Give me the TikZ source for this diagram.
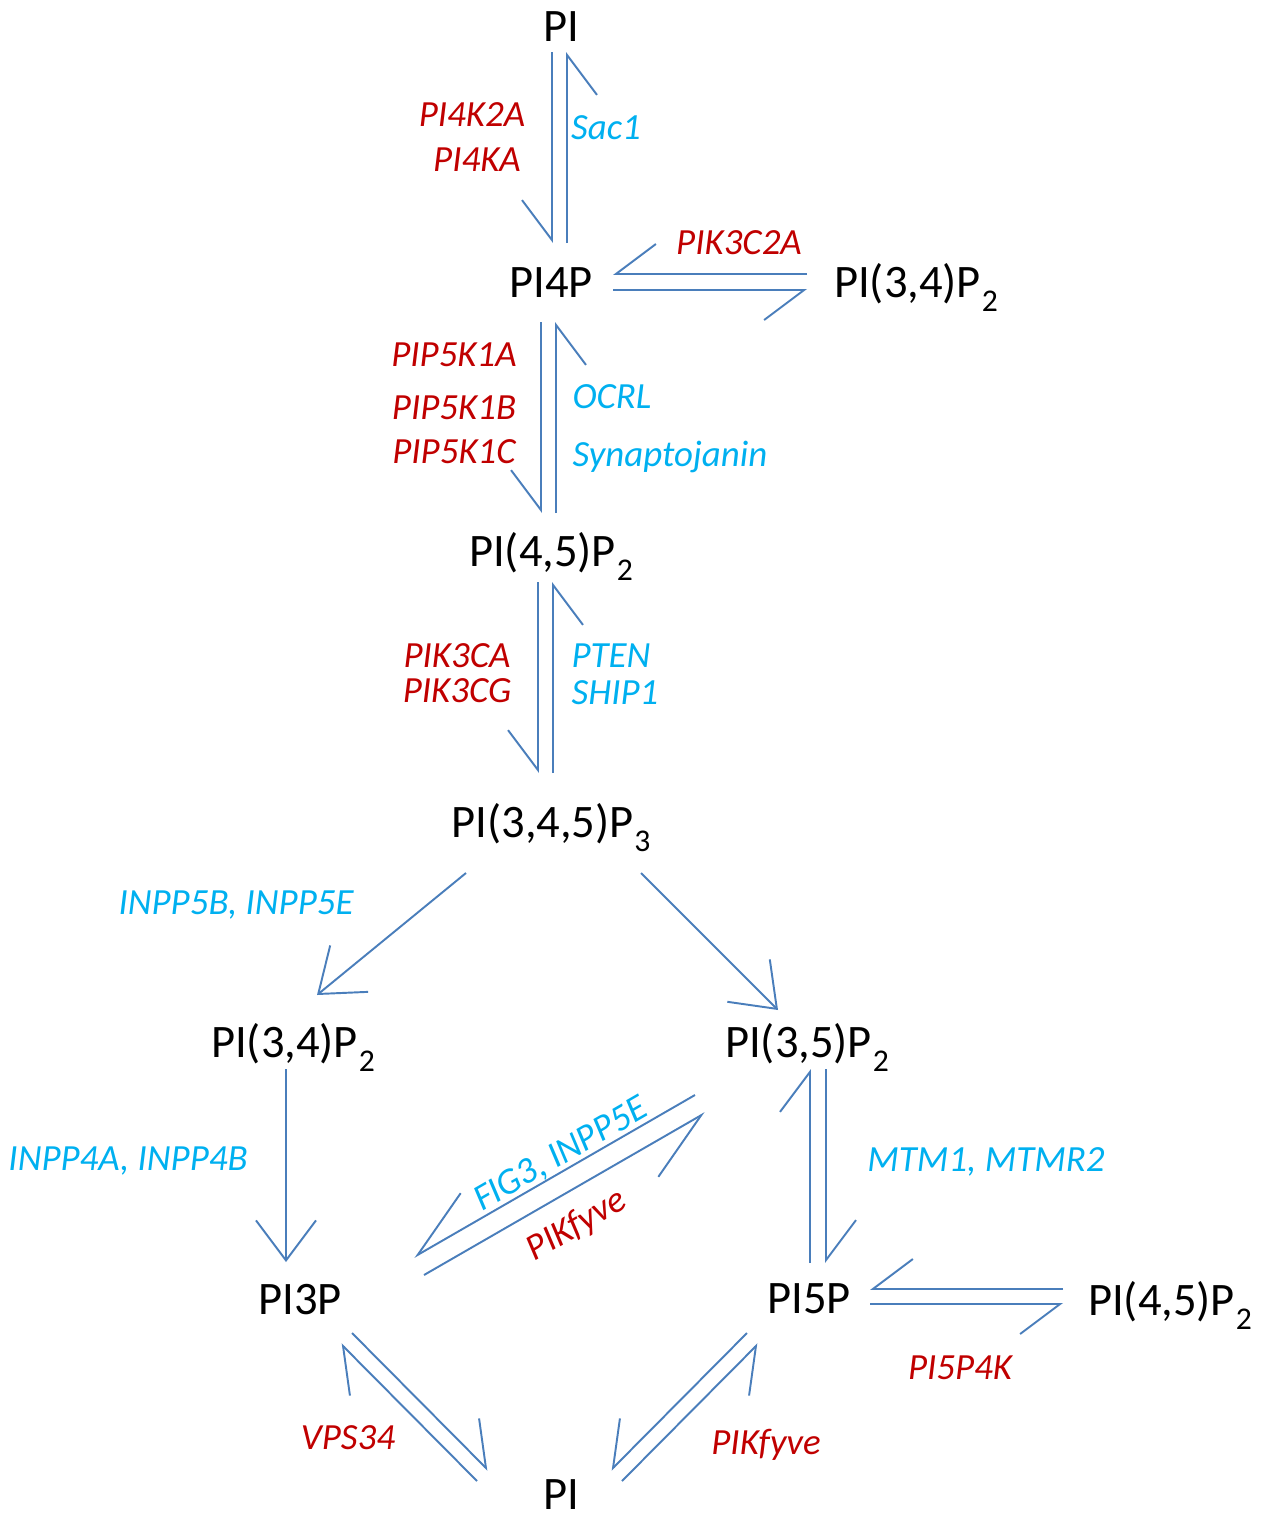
\documentclass[tikz,border=0pt]{standalone}
\usepackage{fontspec}
\setmainfont{Carlito}
\usepackage{tikz}
\usetikzlibrary{arrows.meta}

\definecolor{arrowblue}{RGB}{74,126,187}
\definecolor{kinred}{RGB}{192,0,0}
\definecolor{phosblue}{RGB}{0,176,240}

\newcommand{\lipsub}[1]{\kern0.5pt\raisebox{-8.5pt}{\fontsize{18}{18}\selectfont #1}}

\begin{document}
\begin{tikzpicture}[x=0.02cm,y=-0.02cm,
	lipid/.style={inner sep=0pt,text height=0.6cm,text depth=0pt,font=\fontsize{26.5}{30}\selectfont},
	kinase/.style={inner sep=0pt,text height=0.47cm,text depth=0pt,font=\fontsize{21}{24}\selectfont\itshape,text=kinred},
	phosphatase/.style={kinase,text=phosblue},
	harpr/.style={draw=arrowblue,line width=1.1pt,-{Straight Barb[right,length=0.8cm,width=1.2cm]}},
	harpl/.style={draw=arrowblue,line width=1.1pt,-{Straight Barb[left,length=0.8cm,width=1.2cm]}},
	harpd/.style={draw=arrowblue,line width=1.1pt,-{Straight Barb[right,length=1.36cm,width=1.28cm]}},
	conv/.style={draw=arrowblue,line width=1.1pt,-{Straight Barb[length=0.8cm,width=1.2cm]}}]

	\useasboundingbox (0,0) rectangle (1270,1515);

	\node[lipid] (pitop) at (561,26) {PI};
	\node[lipid] (pifp) at (551,282) {PI4P};
	\node[lipid] (pitfr) at (916,282) {PI(3,4)P\lipsub{2}};
	\node[lipid] (pifive) at (551,551) {PI(4,5)P\lipsub{2}};
	\node[lipid] (pip3) at (551,822) {PI(3,4,5)P\lipsub{3}};
	\node[lipid] (pitfl) at (293,1042) {PI(3,4)P\lipsub{2}};
	\node[lipid] (pitfive) at (807,1042) {PI(3,5)P\lipsub{2}};
	\node[lipid] (pithree) at (300,1299) {PI3P};
	\node[lipid] (pifivep) at (809,1298) {PI5P};
	\node[lipid] (pifr) at (1170,1300) {PI(4,5)P\lipsub{2}};
	\node[lipid] (pibot) at (561,1494) {PI};

	\draw[harpr] ([shift={(-9,26)}]pitop.center) -- ([shift={(1,-39)}]pifp.center);
	\draw[harpr] ([shift={(16,-39)}]pifp.center) -- ([shift={(6,26)}]pitop.center);
	\node[kinase] (pifka) at (472,115) {PI4K2A};
	\node[kinase] (pifkb) at (477,160) {PI4KA};
	\node[phosphatase] (sac) at (606,128) {Sac1};

	\draw[harpr] ([shift={(-109,-8)}]pitfr.center) -- ([shift={(62,-8)}]pifp.center);
	\draw[harpr] ([shift={(62,8)}]pifp.center) -- ([shift={(-109,8)}]pitfr.center);
	\node[kinase] (pikc) at (739,243) {PIK3C2A};

	\draw[harpr] ([shift={(-10,40)}]pifp.center) -- ([shift={(-10,-38)}]pifive.center);
	\draw[harpr] ([shift={(5,-38)}]pifive.center) -- ([shift={(5,40)}]pifp.center);
	\node[kinase] (pipa) at (454,355) {PIP5K1A};
	\node[kinase] (pipb) at (454,408) {PIP5K1B};
	\node[kinase] (pipc) at (454,452) {PIP5K1C};
	\node[phosphatase] (ocrl) at (612,397) {OCRL};
	\node[phosphatase] (synj) at (670,455) {Synaptojanin};

	\draw[harpr] ([shift={(-13,31)}]pifive.center) -- ([shift={(-13,-49)}]pip3.center);
	\draw[harpr] ([shift={(2,-49)}]pip3.center) -- ([shift={(2,31)}]pifive.center);
	\node[kinase] (pika) at (457,656) {PIK3CA};
	\node[kinase] (pikg) at (457,691) {PIK3CG};
	\node[phosphatase] (pten) at (611,656) {PTEN};
	\node[phosphatase] (ship) at (615,693) {SHIP1};

	\draw[conv] ([shift={(-85,51)}]pip3.center) -- ([shift={(24,-47)}]pitfl.center);
	\draw[conv] ([shift={(90,51)}]pip3.center) -- ([shift={(-29,-32)}]pitfive.center);
	\node[phosphatase] (inpfive) at (236,903) {INPP5B, INPP5E};

	\draw[conv] ([shift={(-7,27)}]pitfl.center) -- ([shift={(-14,-37)}]pithree.center);
	\node[phosphatase] (inpfour) at (128,1159) {INPP4A, INPP4B};

	\draw[harpd] ([shift={(-112,53)}]pitfive.center) -- ([shift={(114,-42)}]pithree.center);
	\draw[harpd] ([shift={(124,-24)}]pithree.center) -- ([shift={(-102,71)}]pitfive.center);
	\node[phosphatase,rotate=30] (fig) at (560,1153) {FIG3, INPP5E};
	\node[kinase,rotate=30] (fyvea) at (576,1224) {PIKfyve};

	\draw[harpl] ([shift={(1,-35)}]pifivep.center) -- ([shift={(3,27)}]pitfive.center);
	\draw[harpl] ([shift={(19,27)}]pitfive.center) -- ([shift={(17,-35)}]pifivep.center);
	\node[phosphatase] (mtm) at (986,1160) {MTM1, MTMR2};

	\draw[harpr] ([shift={(-107,-11)}]pifr.center) -- ([shift={(61,-9)}]pifivep.center);
	\draw[harpr] ([shift={(61,6)}]pifivep.center) -- ([shift={(-107,4)}]pifr.center);
	\node[kinase] (pifk) at (960,1368) {PI5P4K};

	\draw[harpl] ([shift={(52,34)}]pithree.center) -- ([shift={(-73,-24)}]pibot.center);
	\draw[harpl] ([shift={(-84,-13)}]pibot.center) -- ([shift={(41,45)}]pithree.center);
	\node[kinase] (vps) at (348,1438) {VPS34};

	\draw[harpr] ([shift={(-62,35)}]pifivep.center) -- ([shift={(50,-24)}]pibot.center);
	\draw[harpr] ([shift={(61,-13)}]pibot.center) -- ([shift={(-51,46)}]pifivep.center);
	\node[kinase] (fyveb) at (766,1443) {PIKfyve};

\end{tikzpicture}
\end{document}
